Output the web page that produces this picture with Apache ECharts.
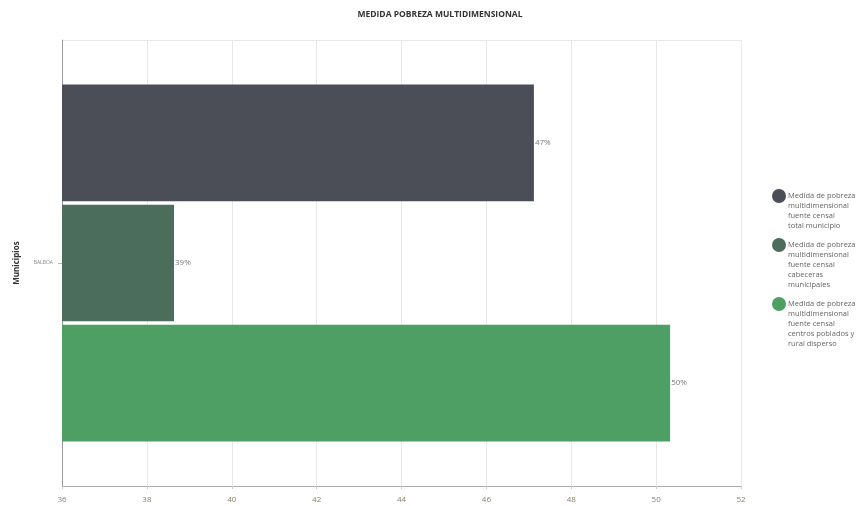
<!DOCTYPE html>
<html>
<head>
<meta charset="utf-8">
<script src="https://cdn.jsdelivr.net/npm/echarts@6/dist/echarts.min.js"></script>
<style>
  html, body { margin: 0; padding: 0; background: #fff; }
  #chart { width: 857px; height: 506px; }
</style>
</head>
<body>
<div id="chart"></div>
<script>
// datos
var categories = ['BALBOA'];
var seriesNames = [
  'Medida de pobreza multidimensional fuente censal total municipio',
  'Medida de pobreza multidimensional fuente censal cabeceras municipales',
  'Medida de pobreza multidimensional fuente censal centros poblados y rural disperso'
];
var legendLines = [
  ['Medida de pobreza', 'multidimensional', 'fuente censal', 'total municipio'],
  ['Medida de pobreza', 'multidimensional', 'fuente censal', 'cabeceras', 'municipales'],
  ['Medida de pobreza', 'multidimensional', 'fuente censal', 'centros poblados y', 'rural disperso']
];
var totalMunicipio = [47.12];
var cabeceras = [38.64];
var centrosPoblados = [50.33];
var colors = ['#4b4e57', '#4a6e5b', '#4e9f64'];

var chart = echarts.init(document.getElementById('chart'));
var values = [totalMunicipio, cabeceras, centrosPoblados];
var lineH = 10;

var series = values.map(function (v, i) {
  return {
    name: seriesNames[i],
    type: 'bar',
    data: v,
    barGap: '3%',
    barCategoryGap: '20%',
    itemStyle: { color: colors[i] },
    label: {
      show: true,
      position: 'right',
      distance: 1,
      color: '#7a7a7a',
      fontSize: 8,
      fontFamily: 'Open Sans',
      formatter: function (p) { return Math.round(p.value) + '%'; }
    }
  };
});

// una leyenda por serie; lineas vacias arriba para que el circulo quede en la primera linea
var iconCenters = [196, 245, 304];
var legends = seriesNames.map(function (name, i) {
  var n = legendLines[i].length;
  var blanks = new Array(n).join('\n');
  return {
    orient: 'vertical',
    left: 772,
    top: iconCenters[i] - (2 * n - 1) * lineH / 2,
    padding: 0,
    icon: 'circle',
    itemWidth: 14,
    itemHeight: 14,
    data: [name],
    formatter: function () { return blanks + legendLines[i].join('\n'); },
    textStyle: {
      fontSize: 7.5, color: '#666', lineHeight: lineH, fontFamily: 'Open Sans',
      padding: [0, 0, 0, -3]
    }
  };
});

chart.setOption({
  animation: false,
  title: {
    text: 'MEDIDA POBREZA MULTIDIMENSIONAL',
    left: 435,
    top: 5,
    textAlign: 'center',
    textStyle: { fontSize: 8.5, fontWeight: 'bold', color: '#333', fontFamily: 'Open Sans' }
  },
  legend: legends,
  grid: { left: 62, right: 116, top: 40, bottom: 20 },
  xAxis: {
    type: 'value',
    min: 36,
    max: 52,
    interval: 2,
    axisLine: { show: true, lineStyle: { color: '#aaa' } },
    axisTick: { show: true, length: 3, lineStyle: { color: '#ccc' } },
    axisLabel: { color: '#8a8068', fontSize: 8, fontFamily: 'Open Sans', margin: 10 },
    splitLine: { show: true, lineStyle: { color: '#e8e8e8' } }
  },
  yAxis: {
    type: 'category',
    data: categories,
    inverse: true,
    name: 'Municipios',
    nameLocation: 'middle',
    nameGap: 41,
    nameRotate: 90,
    nameTextStyle: { fontSize: 8, fontWeight: 'bold', color: '#333', fontFamily: 'Open Sans' },
    axisLine: { show: true, lineStyle: { color: '#999' } },
    axisTick: { show: true, alignWithLabel: true, length: 4, lineStyle: { color: '#bbb' } },
    axisLabel: { color: '#888', fontSize: 5, fontFamily: 'Open Sans', margin: 9 },
    splitLine: { show: true, lineStyle: { color: '#e8e8e8' } }
  },
  series: series
});
</script>
</body>
</html>
